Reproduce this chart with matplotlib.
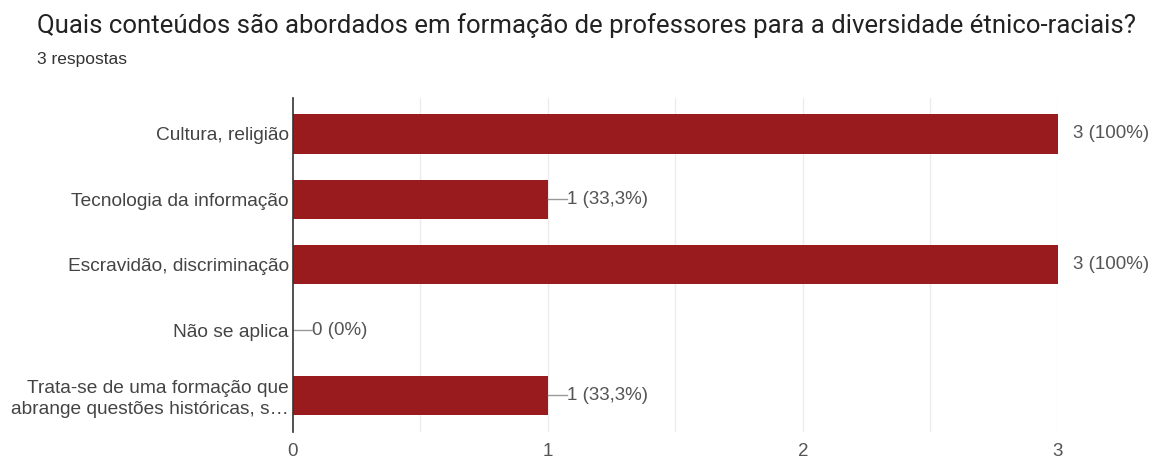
import matplotlib.pyplot as plt
import numpy as np

plt.rcParams['font.family'] = ['Liberation Sans', 'DejaVu Sans']

categorias = [
    'Cultura, religião',
    'Tecnologia da informação',
    'Escravidão, discriminação',
    'Não se aplica',
    'Trata-se de uma formação que\nabrange questões históricas, s…',
]
respostas = [3, 1, 3, 0, 1]
rotulos = ['3 (100%)', '1 (33,3%)', '3 (100%)', '0 (0%)', '1 (33,3%)']
total = 3

fig = plt.figure(figsize=(11.64, 4.61), dpi=100)
ax = fig.add_axes([0.2517, 0.0629, 0.6572, 0.7245])

y = np.arange(len(categorias))
ax.barh(y, respostas, height=0.6, color='#9a1b1e', zorder=3)

# grade vertical clara a cada 0,5
for v in np.arange(0.5, total + 0.01, 0.5):
    ax.axvline(v, color='#ebebeb', lw=1, zorder=1)

for yi, v, txt in zip(y, respostas, rotulos):
    if v < total:
        ax.plot([v, v + 0.075], [yi, yi], color='#999999', lw=1, zorder=4)
        ax.text(v + 0.075, yi, txt, va='center', ha='left', fontsize=13.5, color='#555555')
    else:
        ax.text(v + 0.06, yi, txt, va='center', ha='left', fontsize=13.5, color='#555555')

ax.set_xlim(0, total)
ax.set_ylim(len(categorias) - 0.44, -0.55)
ax.set_yticks(y)
ax.set_yticklabels(categorias, fontsize=13.8, color='#444444', linespacing=1.3)
ax.set_xticks([0, 1, 2, 3])
ax.set_xticklabels(['0', '1', '2', '3'], fontsize=13.5, color='#555555')
ax.tick_params(axis='both', length=0, pad=3)
ax.tick_params(axis='x', pad=8)

for s in ['top', 'right', 'bottom']:
    ax.spines[s].set_visible(False)
ax.spines['left'].set_color('#333333')
ax.spines['left'].set_linewidth(1.2)
ax.spines['left'].set_zorder(5)

fig.text(0.032, 0.945, 'Quais conteúdos são abordados em formação de professores para a diversidade étnico-raciais?',
         fontsize=18.5, color='#222222', va='center', ha='left', family=['Roboto', 'DejaVu Sans'])
fig.text(0.032, 0.87, '3 respostas', fontsize=12.5, color='#333333', va='center', ha='left')

fig.savefig('out.png', dpi=100)
